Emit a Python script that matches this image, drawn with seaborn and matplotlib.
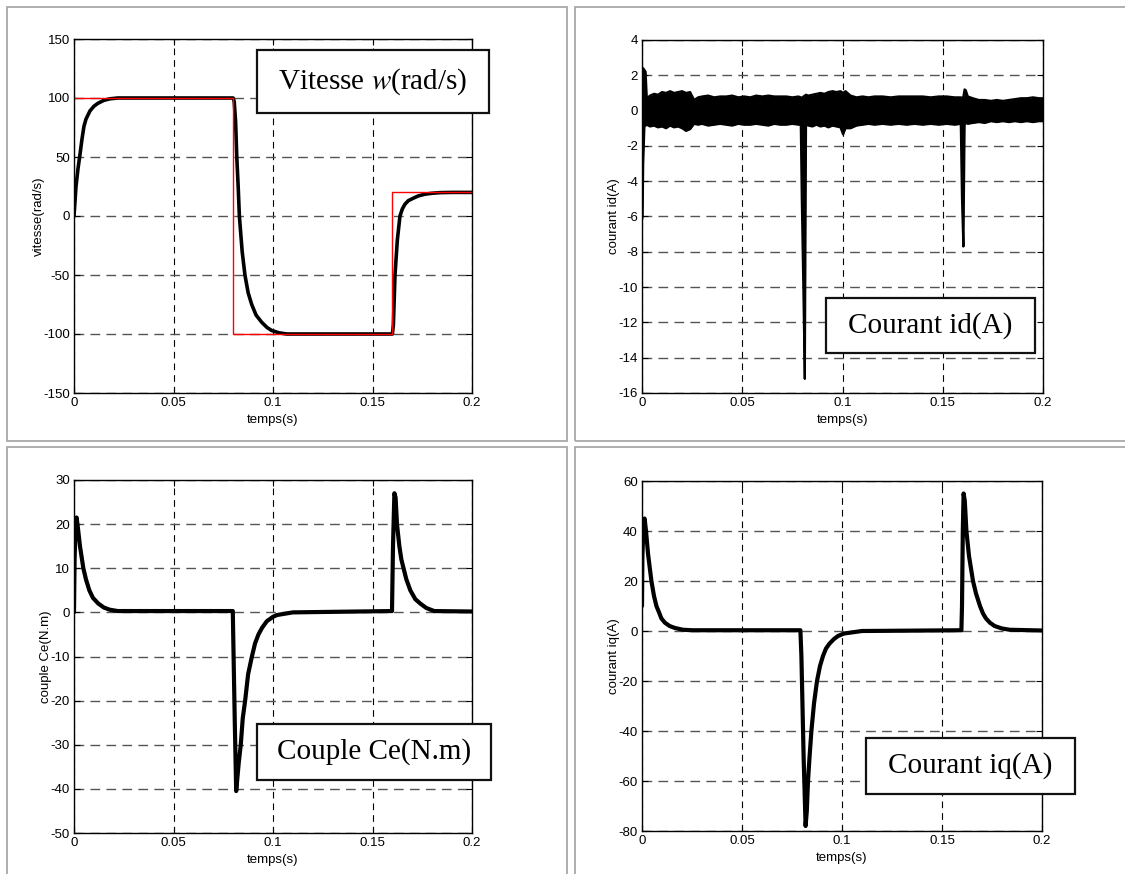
import numpy as np
import pandas as pd
import matplotlib
matplotlib.use("Agg")
import matplotlib.pyplot as plt
import seaborn as sns
from matplotlib.patches import Rectangle

## DATA
# vitesse
w_t = [0, 0.001, 0.002, 0.003, 0.004, 0.005, 0.006, 0.008, 0.010, 0.012,
       0.015, 0.018, 0.022, 0.0800, 0.0805, 0.0812, 0.0818, 0.0825, 0.0831, 0.0845,
       0.0859, 0.0875, 0.0893, 0.0915, 0.0943, 0.0970, 0.0993, 0.1030, 0.1070, 0.1600,
       0.1605, 0.1613, 0.1625, 0.1638, 0.1650, 0.1663, 0.1680, 0.1704, 0.1730, 0.1764,
       0.1800, 0.1840, 0.1900, 0.2000]
w_val = [0, 25, 40, 52, 65, 76, 82, 89, 93, 95.5,
         98, 99.3, 100, 100, 97, 80, 50, 25, 0, -30,
         -50, -65, -75, -84, -90, -94.5, -97, -99, -100, -100,
         -92, -50, -20, 0, 6, 10, 13, 15, 17, 18.5,
         19.3, 19.8, 20, 20]
ref_t = [0, 0.08, 0.16, 0.2]
ref_val = [100, -100, 20, 20]

# courant id (bande de bruit : enveloppes haute / basse)
id_t = [0.0000, 0.0003, 0.0006, 0.0012, 0.0018, 0.0024, 0.0040, 0.0060, 0.0080, 0.0100,
        0.0120, 0.0140, 0.0160, 0.0180, 0.0200, 0.0220, 0.0240, 0.0260, 0.0280, 0.0300,
        0.0330, 0.0360, 0.0390, 0.0420, 0.0450, 0.0480, 0.0510, 0.0540, 0.0570, 0.0600,
        0.0630, 0.0660, 0.0690, 0.0720, 0.0750, 0.0780, 0.0792, 0.0797, 0.0805, 0.0812,
        0.0818, 0.0830, 0.0850, 0.0870, 0.0890, 0.0910, 0.0930, 0.0950, 0.0970, 0.0990,
        0.1003, 0.1015, 0.1040, 0.1070, 0.1100, 0.1130, 0.1160, 0.1200, 0.1240, 0.1280,
        0.1320, 0.1360, 0.1400, 0.1440, 0.1480, 0.1520, 0.1560, 0.1590, 0.1596, 0.1603,
        0.1609, 0.1615, 0.1625, 0.1650, 0.1680, 0.1710, 0.1740, 0.1770, 0.1800, 0.1830,
        0.1860, 0.1890, 0.1920, 0.1950, 0.1980, 0.2000]
id_up = [2.3, 2.4, 2.4, 2.3, 2.2, 0.7, 0.85, 0.95, 0.9, 1.05,
         1.0, 1.1, 1.0, 1.05, 1.1, 1.0, 1.05, 0.6, 0.75, 0.8,
         0.85, 0.75, 0.8, 0.8, 0.85, 0.75, 0.8, 0.75, 0.85, 0.8,
         0.85, 0.8, 0.8, 0.8, 0.75, 0.8, 0.75, 0.7, 0.8, 0.85,
         0.9, 0.85, 0.9, 0.95, 1.0, 0.95, 1.05, 1.1, 1.05, 1.1,
         1.0, 1.1, 0.85, 0.75, 0.8, 0.75, 0.8, 0.8, 0.75, 0.8,
         0.8, 0.8, 0.8, 0.75, 0.8, 0.8, 0.75, 0.75, 0.7, 0.8,
         1.2, 1.15, 0.8, 0.7, 0.6, 0.6, 0.55, 0.6, 0.55, 0.6,
         0.65, 0.7, 0.7, 0.75, 0.7, 0.7]
id_low = [-6.2, -6.0, -3.0, -0.9, -0.85, -0.8, -0.9, -0.85, -0.95, -0.9,
          -1.0, -0.85, -0.95, -0.9, -1.0, -1.15, -1.05, -0.75, -0.8, -0.75,
          -0.85, -0.8, -0.75, -0.8, -0.85, -0.75, -0.8, -0.8, -0.75, -0.8,
          -0.85, -0.75, -0.8, -0.8, -0.75, -0.8, -0.8, -5.0, -10.2, -15.2,
          -0.8, -0.85, -0.9, -0.8, -0.9, -0.85, -0.95, -0.85, -0.9, -0.95,
          -1.35, -1.0, -1.0, -0.85, -0.8, -0.75, -0.8, -0.75, -0.8, -0.75,
          -0.8, -0.75, -0.8, -0.75, -0.8, -0.75, -0.8, -0.75, -5.0, -7.7,
          -0.8, -0.7, -0.75, -0.7, -0.65, -0.7, -0.6, -0.65, -0.6, -0.65,
          -0.6, -0.65, -0.6, -0.65, -0.6, -0.6]

# couple Ce
ce_t = [0, 0.0003, 0.0008, 0.0013, 0.0020, 0.0030, 0.0047, 0.0060, 0.0077, 0.0095,
        0.0122, 0.0150, 0.0180, 0.0220, 0.0798, 0.0800, 0.0808, 0.0815, 0.0820, 0.0828,
        0.0838, 0.0848, 0.0860, 0.0875, 0.0894, 0.0910, 0.0927, 0.0945, 0.0969, 0.1000,
        0.1020, 0.1100, 0.1598, 0.1603, 0.1610, 0.1616, 0.1623, 0.1635, 0.1645, 0.1656,
        0.1670, 0.1690, 0.1715, 0.1740, 0.1770, 0.1810, 0.2000]
ce_val = [0, 12, 20, 21.5, 19, 15, 10, 7.5, 5, 3.3,
          2, 1.1, 0.6, 0.3, 0.3, -5, -25, -40.5, -38, -34,
          -30, -24, -20, -14, -10, -7, -5, -3.5, -2, -1,
          -0.6, 0, 0.3, 15, 27, 26, 20, 15, 12, 10,
          7.5, 5, 3, 2, 1, 0.3, 0.2]

# courant iq
iq_t = [0, 0.0002, 0.0008, 0.0013, 0.0020, 0.0030, 0.0047, 0.0060, 0.0072, 0.0085,
        0.0097, 0.0115, 0.0138, 0.0165, 0.0205, 0.0250, 0.0792, 0.0797, 0.0808, 0.0818,
        0.0824, 0.0830, 0.0838, 0.0847, 0.0860, 0.0875, 0.0890, 0.0905, 0.0920, 0.0938,
        0.0960, 0.0980, 0.1010, 0.1055, 0.1100, 0.1597, 0.1600, 0.1604, 0.1608, 0.1614,
        0.1622, 0.1635, 0.1655, 0.1670, 0.1690, 0.1705, 0.1720, 0.1740, 0.1763, 0.1800,
        0.1838, 0.2000]
iq_val = [10, 30, 44, 45, 40, 31, 20, 14, 10, 7.5,
          5, 3.3, 2, 1.2, 0.5, 0.3, 0.3, -10, -50, -78,
          -72, -60, -50, -40, -29, -20, -14, -10, -7, -5,
          -3.2, -2, -1, -0.5, 0, 0.3, 10, 40, 55, 52,
          40, 30, 20, 15, 10, 7, 5, 3.3, 2, 1,
          0.5, 0.2]

x_ticks = [0, 0.05, 0.1, 0.15, 0.2]
x_ticklabels = ["0", "0.05", "0.1", "0.15", "0.2"]

## STYLE
sns.set_theme(style="white")
plt.rcParams['font.family'] = ['Liberation Sans', 'DejaVu Sans']
plt.rcParams['mathtext.fontset'] = 'stix'

fig = plt.figure(figsize=(11.25, 8.74), dpi=100)
W, H = 1125.0, 874.0


def px_axes(x0, y0, x1, y1):
    # pixel box (top-left origin) -> axes
    return fig.add_axes([x0 / W, 1 - y1 / H, (x1 - x0) / W, (y1 - y0) / H])


# grey table-cell borders
for (x0, y0, x1, y1) in [(7, 7, 567, 441), (575, 7, 1135, 441),
                         (7, 447, 567, 884), (575, 447, 1135, 884)]:
    fig.add_artist(Rectangle((x0 / W, 1 - y1 / H), (x1 - x0) / W, (y1 - y0) / H,
                             transform=fig.transFigure, fill=False,
                             edgecolor='#a8a8a8', lw=1.3))


def style_axes(ax, ylim, yticks, ylabel):
    ax.set_xlim(0, 0.2)
    ax.set_ylim(*ylim)
    ax.set_xticks(x_ticks)
    ax.set_xticklabels(x_ticklabels)
    ax.set_yticks(yticks)
    ax.set_yticklabels([str(v) for v in yticks])
    ax.set_xlabel("temps(s)", fontsize=9.5, labelpad=3.5, color='black')
    ax.set_ylabel(ylabel, fontsize=9.5, labelpad=-1, color='black')
    ax.tick_params(direction='in', top=True, right=True, bottom=True, left=True,
                   length=4, width=0.8, color='black', labelcolor='black',
                   labelsize=9.5, pad=3)
    ax.xaxis.grid(True, color='black', lw=0.8, linestyle=(0, (6, 4.5)))
    ax.yaxis.grid(True, color='#555555', lw=1.0, linestyle=(0, (7, 4.5)))
    ax.set_axisbelow(True)
    for sp in ax.spines.values():
        sp.set_color('black')
        sp.set_linewidth(1.0)
        sp.set_visible(True)


def label_box(ax, x0, y0, w, h, txt):
    ax.add_patch(Rectangle((x0, y0), w, h, transform=ax.transAxes, facecolor='white',
                           edgecolor='#111111', lw=1.6, clip_on=False, zorder=5))
    ax.text(x0 + w / 2, y0 + h / 2, txt, transform=ax.transAxes, ha='center',
            va='center', fontsize=21, family=['Liberation Serif'], color='black',
            zorder=6)


## Vitesse
ax1 = px_axes(74, 39, 472, 393)
sns.lineplot(x=w_t, y=w_val, ax=ax1, color='black', lw=2.6, sort=False)
sns.lineplot(x=ref_t, y=ref_val, ax=ax1, color='red', lw=1.0, drawstyle='steps-post',
             sort=False)
style_axes(ax1, (-150, 150), list(range(-150, 151, 50)), "vitesse(rad/s)")
label_box(ax1, 0.46, 0.791, 0.583, 0.178, "Vitesse $w$(rad/s)")

## Courant id
ax2 = px_axes(642, 40, 1043, 393)
ax2.fill_between(id_t, id_low, id_up, color='black', lw=0)
sns.lineplot(x=id_t, y=id_up, ax=ax2, color='black', lw=1.6, sort=False)
sns.lineplot(x=id_t, y=id_low, ax=ax2, color='black', lw=1.6, sort=False)
style_axes(ax2, (-16, 4), list(range(-16, 5, 2)), "courant id(A)")
label_box(ax2, 0.459, 0.113, 0.521, 0.156, "Courant id(A)")

## Couple
ax3 = px_axes(74, 480, 472, 833)
sns.lineplot(x=ce_t, y=ce_val, ax=ax3, color='black', lw=3.0, sort=False)
style_axes(ax3, (-50, 30), list(range(-50, 31, 10)), "couple Ce(N.m)")
label_box(ax3, 0.46, 0.150, 0.588, 0.159, "Couple Ce(N.m)")

## Courant iq
ax4 = px_axes(642, 481, 1042, 831)
sns.lineplot(x=iq_t, y=iq_val, ax=ax4, color='black', lw=3.0, sort=False)
style_axes(ax4, (-80, 60), list(range(-80, 61, 20)), "courant iq(A)")
label_box(ax4, 0.56, 0.106, 0.5225, 0.16, "Courant iq(A)")

fig.savefig("out.png", dpi=100, facecolor='white')
